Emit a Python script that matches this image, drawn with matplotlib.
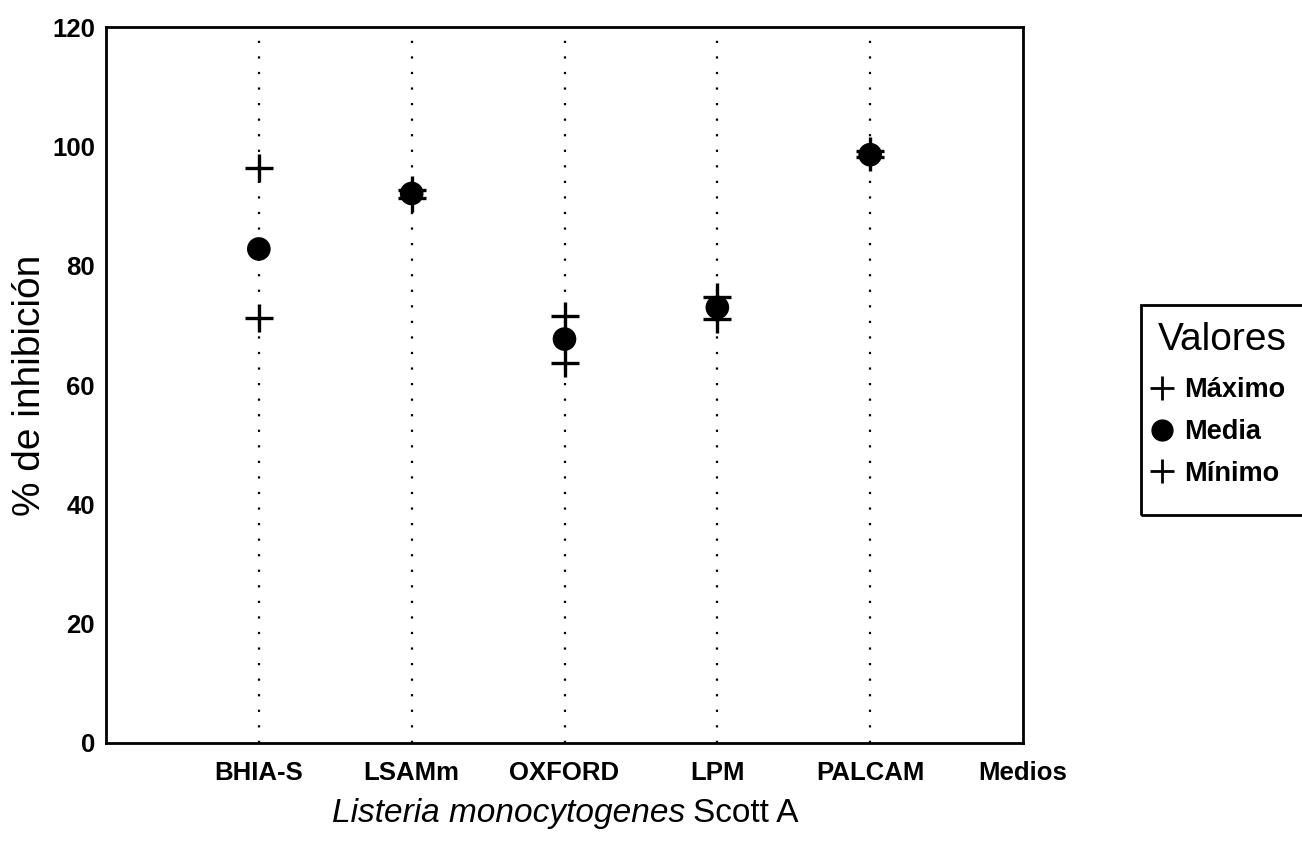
import matplotlib
matplotlib.use("Agg")
import matplotlib.pyplot as plt
from matplotlib.lines import Line2D
from matplotlib.patches import Rectangle

categories = ["BHIA-S", "LSAMm", "OXFORD", "LPM", "PALCAM"]
extra_label = "Medios"
maximo = [96.3, 92.6, 71.5, 74.8, 99.2]
media = [82.8, 92.1, 67.7, 73.0, 98.6]
minimo = [71.2, 91.4, 63.7, 71.1, 98.2]
yticks = [0, 20, 40, 60, 80, 100, 120]

plt.rcParams['font.family'] = ['Liberation Sans', 'DejaVu Sans']

W, H = 1302, 842
fig = plt.figure(figsize=(W/100, H/100), dpi=100)
ax = fig.add_axes([106/W, 1 - 743/H, (1023-106)/W, (743-27)/H])

xpos = list(range(1, len(categories) + 1))
for x in xpos:
    ax.plot([x, x], [0, 120], color='black', lw=1.6, linestyle=(0, (1, 6)), zorder=1)

ax.scatter(xpos, maximo, marker='+', s=380, linewidths=2.4, color='black', zorder=3)
ax.scatter(xpos, minimo, marker='+', s=380, linewidths=2.4, color='black', zorder=3)
ax.scatter(xpos, media, marker='o', s=290, color='black', edgecolors='none', zorder=4)

ax.set_xlim(0, len(categories) + 1)
ax.set_ylim(0, 120)
ax.set_xticks(xpos + [len(categories) + 1])
ax.set_xticklabels(categories + [extra_label], fontsize=18.5, fontweight='bold')
ax.set_yticks(yticks)
ax.set_yticklabels([str(v) for v in yticks], fontsize=18.5, fontweight='bold')
ax.tick_params(axis='both', length=0)
ax.tick_params(axis='x', pad=13)
ax.tick_params(axis='y', pad=8)
for sp in ax.spines.values():
    sp.set_linewidth(2.0)

fig.text(30/W, 1 - 385/H, "% de inhibición", rotation=90,
         ha='center', va='center', fontsize=28)

# x-axis title: italic species name + roman strain name, centred together
renderer = fig.canvas.get_renderer()
base_y = 1 - 822/H
ta = fig.text(0, base_y, "Listeria monocytogenes", fontsize=24, style='italic',
              ha='left', va='baseline')
tb = fig.text(0, base_y, "Scott A", fontsize=24, ha='left', va='baseline')
wa = ta.get_window_extent(renderer).width
wb = tb.get_window_extent(renderer).width
gap = 8
total = wa + gap + wb
x0 = 565 - total / 2
ta.set_x(x0 / W)
tb.set_x((x0 + wa + gap) / W)

# legend box (extends beyond the right edge as in the reference)
fig.patches.append(Rectangle((1141/W, 1 - 515/H), (1330-1141)/W, (515-305)/H,
                             transform=fig.transFigure, fill=False,
                             edgecolor='black', lw=2.0))
fig.text(1158/W, 1 - 340/H, "Valores", fontsize=28, ha='left', va='center')
handles = [
    Line2D([], [], marker='+', color='black', linestyle='none', markersize=17, markeredgewidth=2),
    Line2D([], [], marker='o', color='black', linestyle='none', markersize=15),
    Line2D([], [], marker='+', color='black', linestyle='none', markersize=17, markeredgewidth=2),
]
leg = fig.legend(handles, ["Máximo", "Media", "Mínimo"],
                 loc='upper left', bbox_to_anchor=(1144/W, 1 - 372/H),
                 frameon=False, prop={'size': 19.5, 'weight': 'bold'},
                 handlelength=0.9, handletextpad=0.4,
                 labelspacing=0.58, borderpad=0.2, borderaxespad=0)

fig.savefig("out.png", dpi=100)
